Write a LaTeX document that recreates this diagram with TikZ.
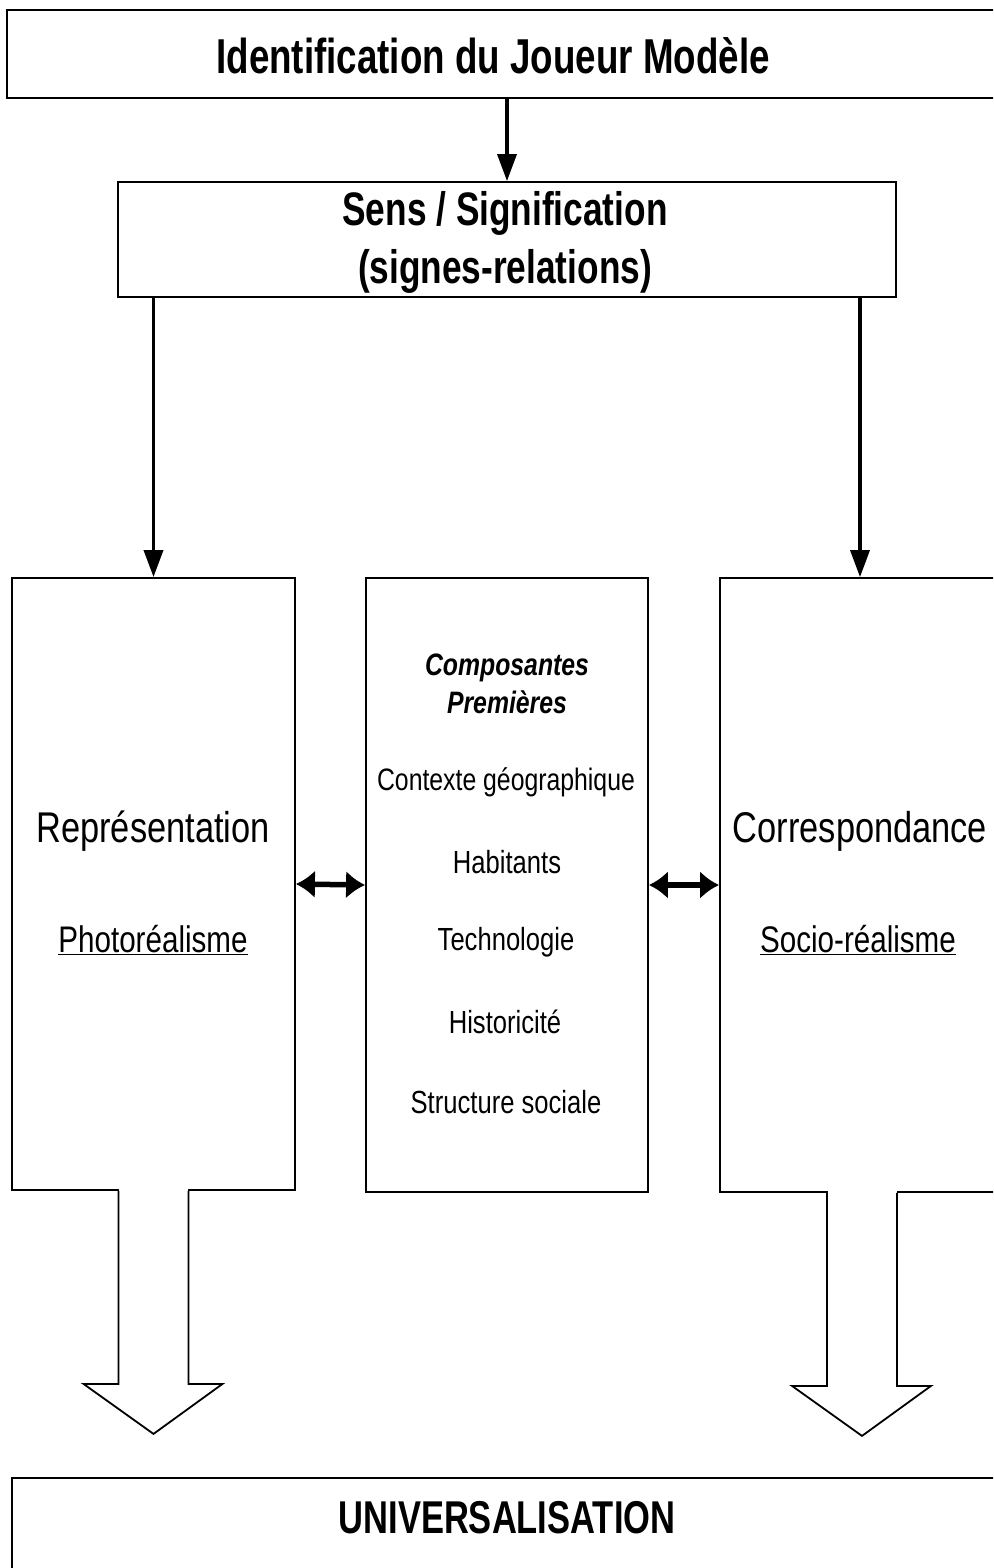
\documentclass[tikz,border=0pt]{standalone}
\usepackage{fontspec}
\setmainfont{Liberation Sans}[FakeStretch=0.8]
\newfontfamily\boldnarrow{Liberation Sans}[FakeStretch=0.75]
\usetikzlibrary{arrows.meta,calc}
\begin{document}
\begin{tikzpicture}[x=1pt,y=-1pt,
  box/.style={draw, line width=1.8pt, inner sep=0pt, fill=white},
  txt/.style={inner sep=0pt, align=center},
  conn/.style={line width=3.5pt, -{Triangle[length=27pt,width=19pt]}},
  dbl/.style={line width=5.5pt, {Latex[length=19pt,width=28pt]}-{Latex[length=19pt,width=28pt]}},
  blockarrow/.style={line width=1.8pt, line join=miter, fill=white}
]
\useasboundingbox (0,0) rectangle (993,1568);
\clip (0,0) rectangle (993,1568);
% boxes
\node[box, minimum width=993pt, minimum height=88pt] (top) at (503.5,54) {};
\node[box, minimum width=778pt, minimum height=115pt] (sens) at (507,239.5) {};
\node[box, minimum width=283pt, minimum height=612pt] (rep) at (153.5,884) {};
\node[box, minimum width=282pt, minimum height=614pt] (mid) at (507,885) {};
\node[box, minimum width=280pt, minimum height=614pt] (cor) at (860,885) {};
\node[box, minimum width=988pt, minimum height=122pt] (univ) at (506,1539) {};
% texts
\node[txt, font=\boldnarrow\fontsize{49}{56}\selectfont\bfseries] (ttop) at (493,56) {Identification du Joueur Modèle};
\node[txt, font=\boldnarrow\fontsize{47}{58}\selectfont\bfseries] (tsens) at (505,242) {Sens / Signification\\(signes-relations)};
\node[txt, font=\fontsize{43}{48}\selectfont] (trep) at (153,831) {Représentation};
\node[txt, font=\fontsize{37}{40}\selectfont] (tphoto) at (153,940) {\underline{Photoréalisme}};
\node[txt, font=\fontsize{43}{48}\selectfont] (tcor) at (860,831) {Correspondance};
\node[txt, font=\fontsize{37}{40}\selectfont] (tsocio) at (858,940) {\underline{Socio-réalisme}};
\node[txt, font=\fontsize{31}{38}\selectfont\bfseries\itshape] (tcomp) at (507,684) {Composantes\\Premières};
\node[txt, font=\fontsize{31}{36}\selectfont] (t1) at (506,782) {Contexte géographique};
\node[txt, font=\fontsize{32}{36}\selectfont] (t2) at (507,862) {Habitants};
\node[txt, font=\fontsize{32}{36}\selectfont] (t3) at (506,942) {Technologie};
\node[txt, font=\fontsize{32}{36}\selectfont] (t4) at (505,1022) {Historicité};
\node[txt, font=\fontsize{32}{36}\selectfont] (t5) at (506,1102) {Structure sociale};
\node[txt, font=\boldnarrow\fontsize{46}{56}\selectfont\bfseries] (tuniv) at (507,1518) {UNIVERSALISATION};
% connectors
\draw[conn] (sens.north |- top.south) -- (sens.north);
\draw[conn] (rep.north |- sens.south) -- (rep.north);
\draw[conn] (cor.north |- sens.south) -- (cor.north);
\draw[dbl] (rep.east) -- (mid.west);
\draw[dbl] (mid.east) -- (cor.west);
% block arrows
\coordinate (ra) at ($(rep.south)+(0,0)$);
\coordinate (ca) at ($(cor.south)+(2,0)$);
\foreach \c in {ra,ca}{
  \fill[white] ($(\c)+(-34.5,-4)$) rectangle ($(\c)+(34.5,4)$);
  \draw[blockarrow] ($(\c)+(-35,0)$) -- ($(\c)+(-35,193)$) -- ($(\c)+(-70,193)$) -- ($(\c)+(0,243)$) -- ($(\c)+(69,193)$) -- ($(\c)+(35,193)$) -- ($(\c)+(35,0)$);
}
\end{tikzpicture}
\end{document}
